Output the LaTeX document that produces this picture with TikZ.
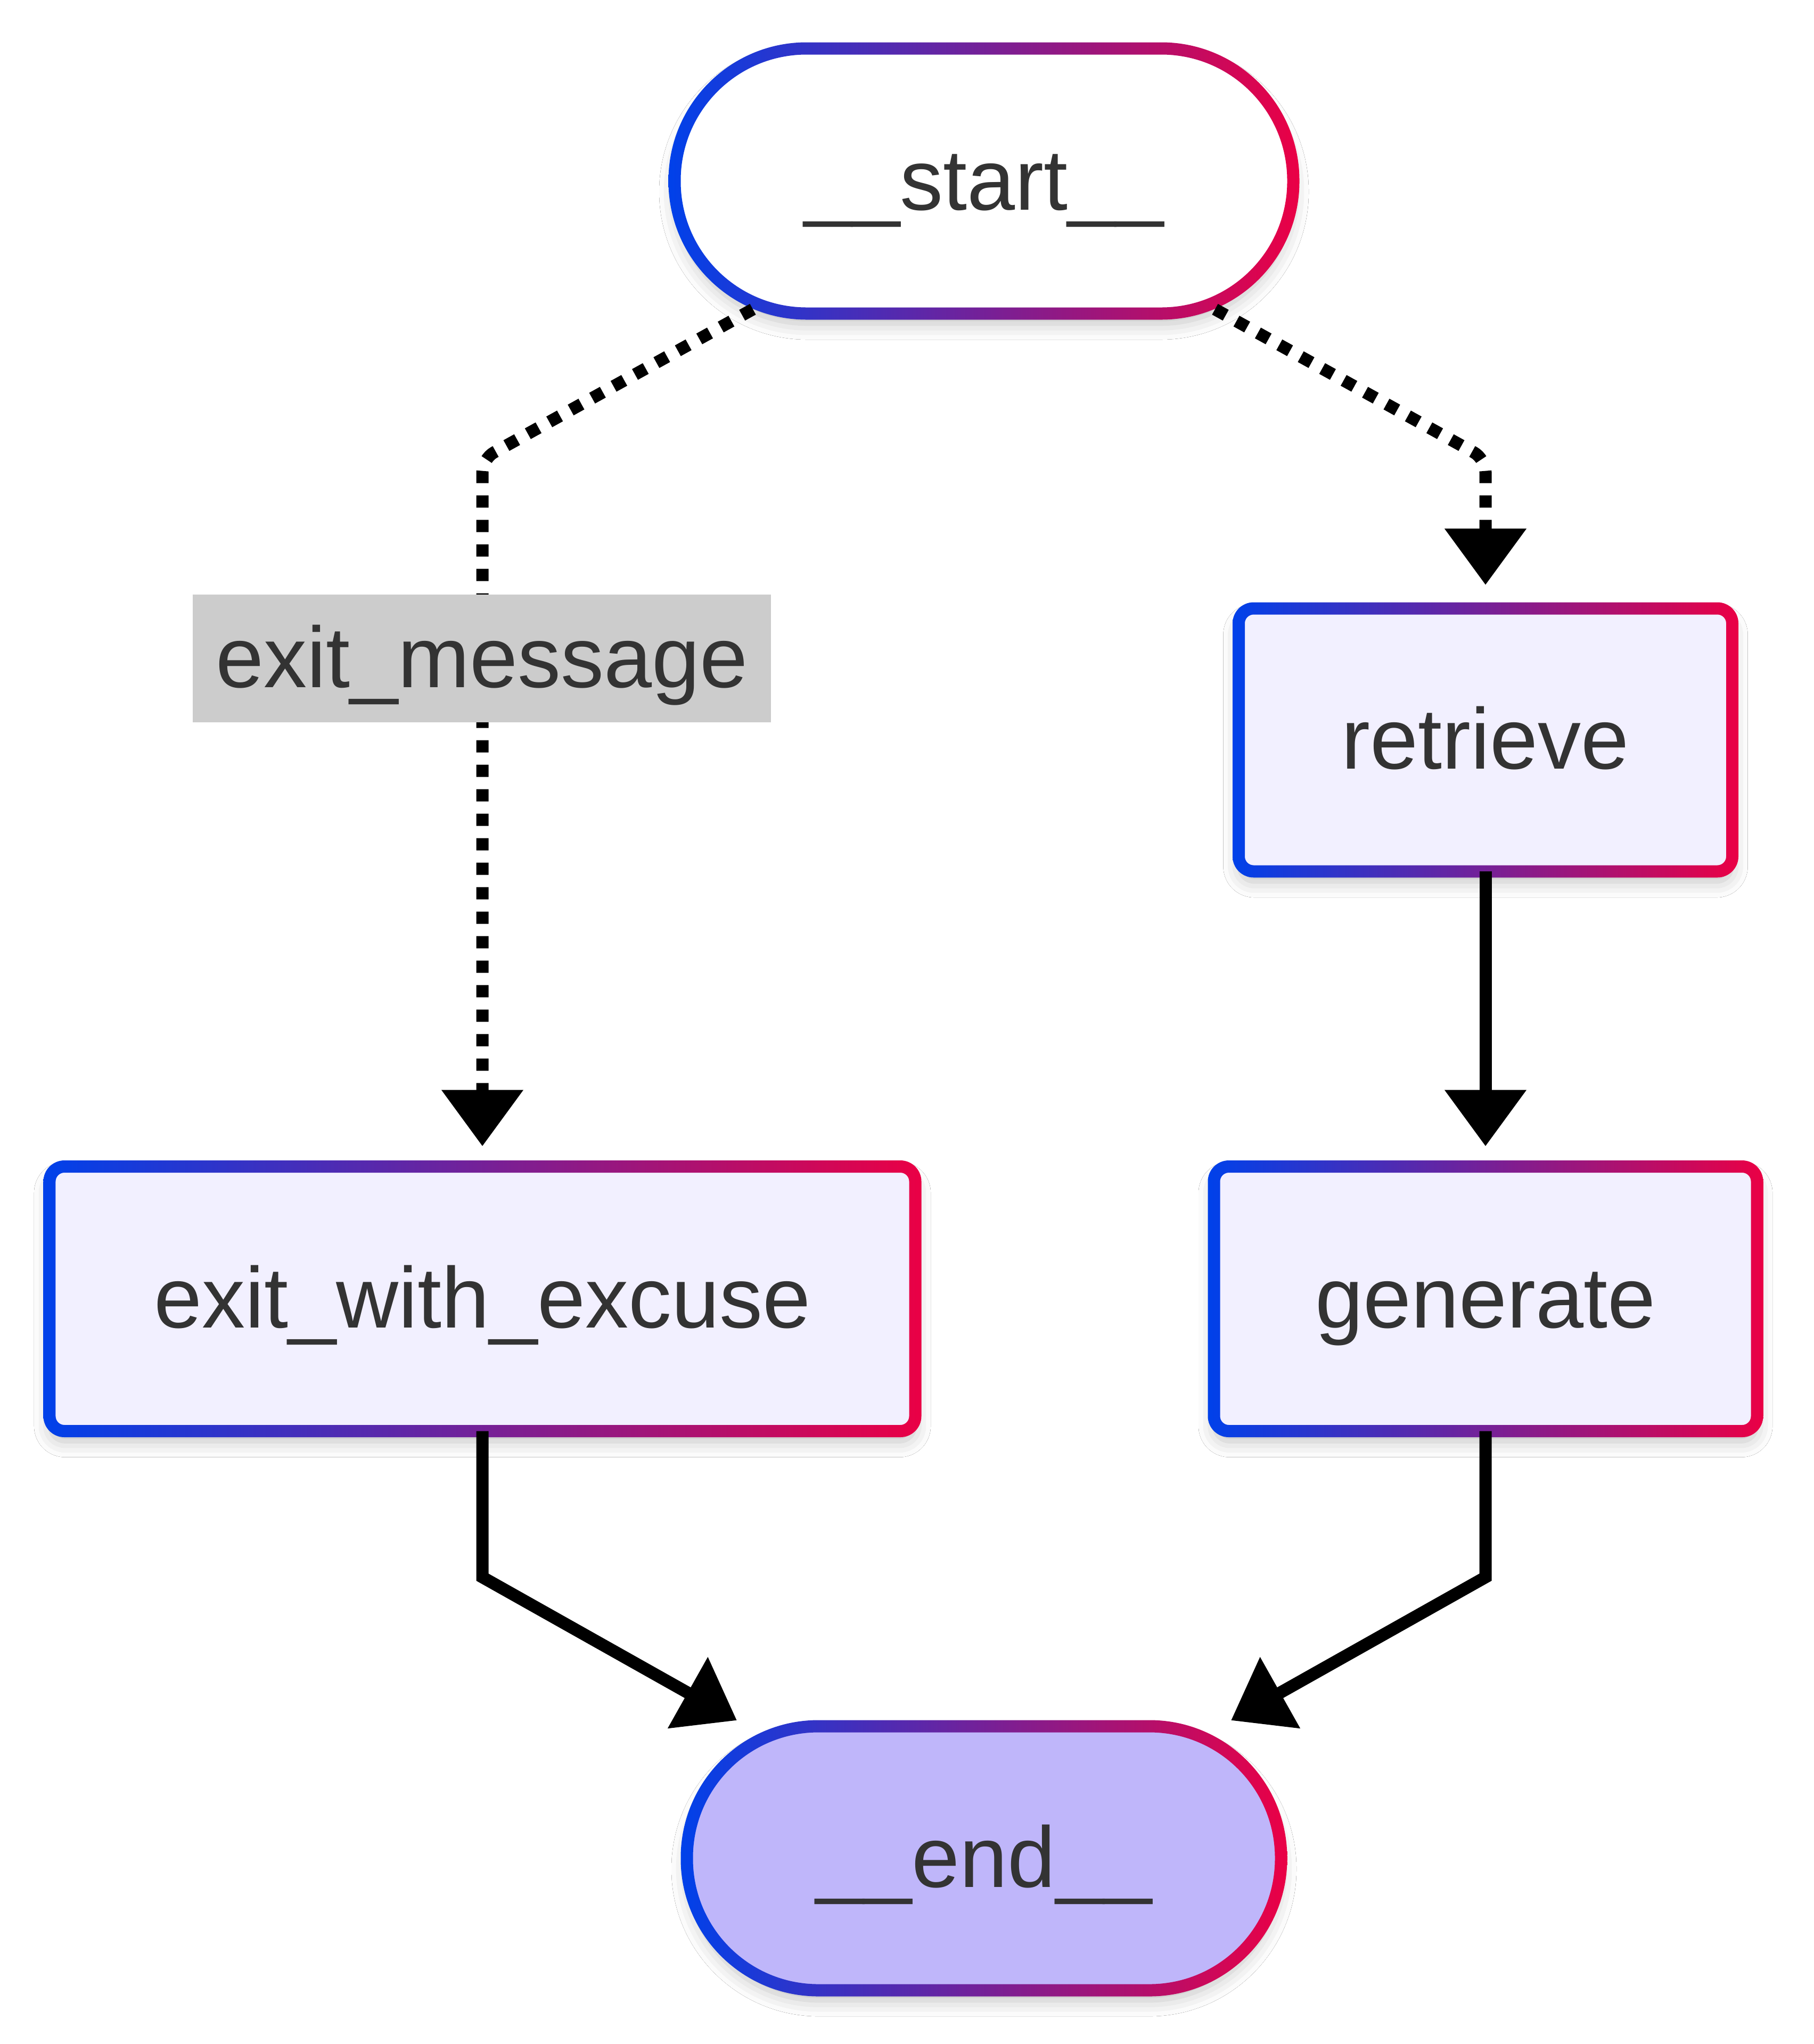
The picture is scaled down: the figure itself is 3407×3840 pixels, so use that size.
\documentclass[tikz,border=0pt]{standalone}
\usepackage{fontspec}
\setmainfont{Liberation Sans}
\usetikzlibrary{arrows.meta,shadows.blur}
\definecolor{gblue}{HTML}{0041EA}
\definecolor{gred}{HTML}{EA0045}
\definecolor{boxfill}{HTML}{F2F0FF}
\definecolor{endfill}{HTML}{BFB6FA}
\definecolor{txt}{HTML}{333333}
\definecolor{lblgray}{HTML}{CCCCCC}
\newcommand\gring[3]{%
  \shade[left color=gblue, right color=gred, even odd rule]
    ([shift={(-11.5,-11.5)}]#1.north west) [rounded corners=#2] rectangle ([shift={(11.5,11.5)}]#1.south east)
    ([shift={(11.5,11.5)}]#1.north west) [rounded corners=#3] rectangle ([shift={(-11.5,-11.5)}]#1.south east);
}
\begin{document}
\begin{tikzpicture}[x=0.2pt, y=-0.2pt,
  every node/.style={font=\fontsize{32.4}{40}\selectfont, text=txt, text height=24pt, text depth=2.4pt},
  gnode/.style={inner sep=0pt, blur shadow={shadow xshift=0pt, shadow yshift=-4pt, shadow blur radius=6pt, shadow opacity=25}},
  dottededge/.style={line width=4.6pt, dash pattern=on 4.6pt off 4.6pt, -{Triangle[length=21.2pt,width=29.6pt]}, rounded corners=5pt},
  solidedge/.style={line width=4.6pt, -{Triangle[length=21.2pt,width=29.6pt]}},
  lbl/.style={fill=lblgray, inner sep=0pt}]
\fill[white] (0,0) rectangle (3407,3840);
\useasboundingbox (0,0) rectangle (3407,3840);

\node[gnode, minimum width=232pt, minimum height=99.2pt, rounded corners=49.6pt, fill=white] (startn) at (1848,340) {\_\_start\_\_};
\gring{startn}{51.9pt}{47.3pt}
\node[gnode, minimum width=185pt, minimum height=98.4pt, rounded corners=5.6pt, fill=boxfill] (retrieve) at (2790,1390) {retrieve};
\gring{retrieve}{7.9pt}{3.3pt}
\node[gnode, minimum width=203.6pt, minimum height=99pt, rounded corners=5.6pt, fill=boxfill] (generate) at (2790,2440) {generate};
\gring{generate}{7.9pt}{3.3pt}
\node[gnode, minimum width=324.8pt, minimum height=99pt, rounded corners=5.6pt, fill=boxfill] (exitx) at (906,2440) {exit\_with\_excuse};
\gring{exitx}{7.9pt}{3.3pt}
\node[gnode, minimum width=222.8pt, minimum height=98.8pt, rounded corners=49.4pt, fill=endfill] (endn) at (1848,3491) {\_\_end\_\_};
\gring{endn}{51.7pt}{47.1pt}

\coordinate (bendL) at (906,862);
\coordinate (bendR) at (2790,862);
\coordinate (bendBL) at (906,2963);
\coordinate (bendBR) at (2790,2963);

\draw[dottededge] ([shift={(-434,241)}]startn.center) -- (bendL) -- ([yshift=7.6pt]exitx.north);
\draw[dottededge] ([shift={(434,241)}]startn.center) -- (bendR) -- ([yshift=8.8pt]retrieve.north);
\draw[solidedge] (retrieve.south) -- ([yshift=7.6pt]generate.north);
\draw[solidedge] (exitx.south) -- (bendBL) -- ([shift={(-464,-259)}]endn.center);
\draw[solidedge] (generate.south) -- (bendBR) -- ([shift={(464,-259)}]endn.center);

\node[lbl, minimum width=217pt, minimum height=48pt] (msg) at (905,1237) {exit\_message};
\end{tikzpicture}
\end{document}
